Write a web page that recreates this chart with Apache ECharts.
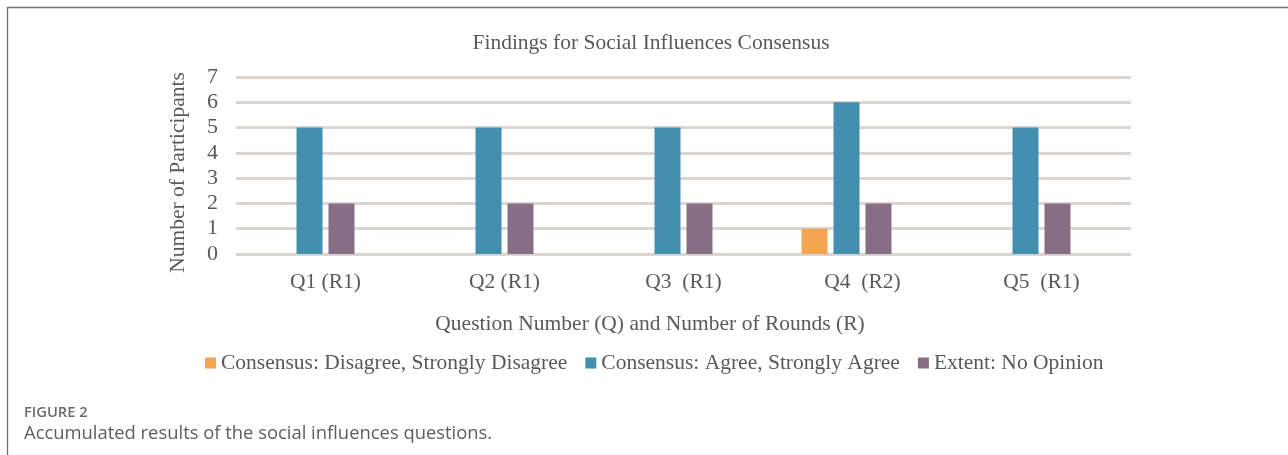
<!DOCTYPE html>
<html>
<head>
<meta charset="utf-8">
<script src="https://cdn.jsdelivr.net/npm/echarts@6/dist/echarts.min.js"></script>
<style>
html,body{margin:0;padding:0;background:#fff;}
#chart{width:1288px;height:455px;}
</style>
</head>
<body>
<div id="chart"></div>
<script>
const categories = ['Q1 (R1)', 'Q2 (R1)', 'Q3  (R1)', 'Q4  (R2)', 'Q5  (R1)'];
const disagree = [0, 0, 0, 1, 0];
const agree = [5, 5, 5, 6, 5];
const noOpinion = [2, 2, 2, 2, 2];
const hiddenSeries = [0, 0, 0, 0, 0];
const seriesNames = ['Consensus: Disagree, Strongly Disagree', 'Consensus: Agree, Strongly Agree', 'Extent: No Opinion'];
const yTicks = [0, 1, 2, 3, 4, 5, 6, 7];

const serif = '"Liberation Serif", "Times New Roman", serif';
const textColor = '#595959';
const chart = echarts.init(document.getElementById('chart'));
const barCommon = { type: 'bar', barWidth: 26, barGap: '23%' };
chart.setOption({
  animation: false,
  color: ['#F5A452', '#428FAF', '#886E85', '#cccccc'],
  title: {
    text: 'Findings for Social Influences Consensus',
    left: 646, top: 27, textAlign: 'center',
    textStyle: { fontFamily: serif, fontSize: 21.5, fontWeight: 'normal', color: textColor }
  },
  legend: {
    data: seriesNames,
    left: 200, top: 347,
    itemWidth: 11, itemHeight: 11, itemGap: 18,
    icon: 'rect',
    textStyle: { fontFamily: serif, fontSize: 21.5, color: textColor }
  },
  grid: { left: 236, right: 157, top: 77, bottom: 201 },
  xAxis: {
    type: 'category', data: categories,
    name: 'Question Number (Q) and Number of Rounds (R)',
    nameLocation: 'middle', nameGap: 59,
    nameTextStyle: { fontFamily: serif, fontSize: 21.5, color: textColor, padding: [0, 67, 0, 0] },
    axisLine: { lineStyle: { color: '#d9d4d0', width: 1.5 } },
    axisTick: { show: false },
    axisLabel: { fontFamily: serif, fontSize: 21.5, color: textColor, margin: 17 }
  },
  yAxis: {
    type: 'value', min: yTicks[0], max: yTicks[yTicks.length - 1], interval: 1,
    name: 'Number of Participants',
    nameLocation: 'middle', nameGap: 47,
    nameTextStyle: { fontFamily: serif, fontSize: 21.5, color: textColor, padding: [0, 14, 0, 0] },
    axisLine: { show: false },
    axisTick: { show: false },
    axisLabel: { fontFamily: serif, fontSize: 22, color: textColor, margin: 18 },
    splitLine: { lineStyle: { color: '#dcd6d2', width: 3 } }
  },
  series: [
    Object.assign({ name: seriesNames[0], data: disagree }, barCommon),
    Object.assign({ name: seriesNames[1], data: agree }, barCommon),
    Object.assign({ name: seriesNames[2], data: noOpinion }, barCommon),
    Object.assign({ name: 'hidden', data: hiddenSeries }, barCommon)
  ],
  graphic: [
    { type: 'line', shape: { x1: 7, y1: 7.5, x2: 1288, y2: 7.5 }, style: { stroke: '#707070', lineWidth: 1.3 } },
    { type: 'line', shape: { x1: 7.5, y1: 7, x2: 7.5, y2: 455 }, style: { stroke: '#707070', lineWidth: 1.3 } },
    { type: 'text', left: 24, top: 405, style: { text: 'FIGURE 2', font: '600 14.7px "Open Sans", sans-serif', fill: '#6a6a6a' } },
    { type: 'text', left: 24, top: 425, style: { text: 'Accumulated results of the social influences questions.', font: '18.4px "Open Sans", sans-serif', fill: '#5e5e5e' } }
  ]
});
</script>
</body>
</html>
